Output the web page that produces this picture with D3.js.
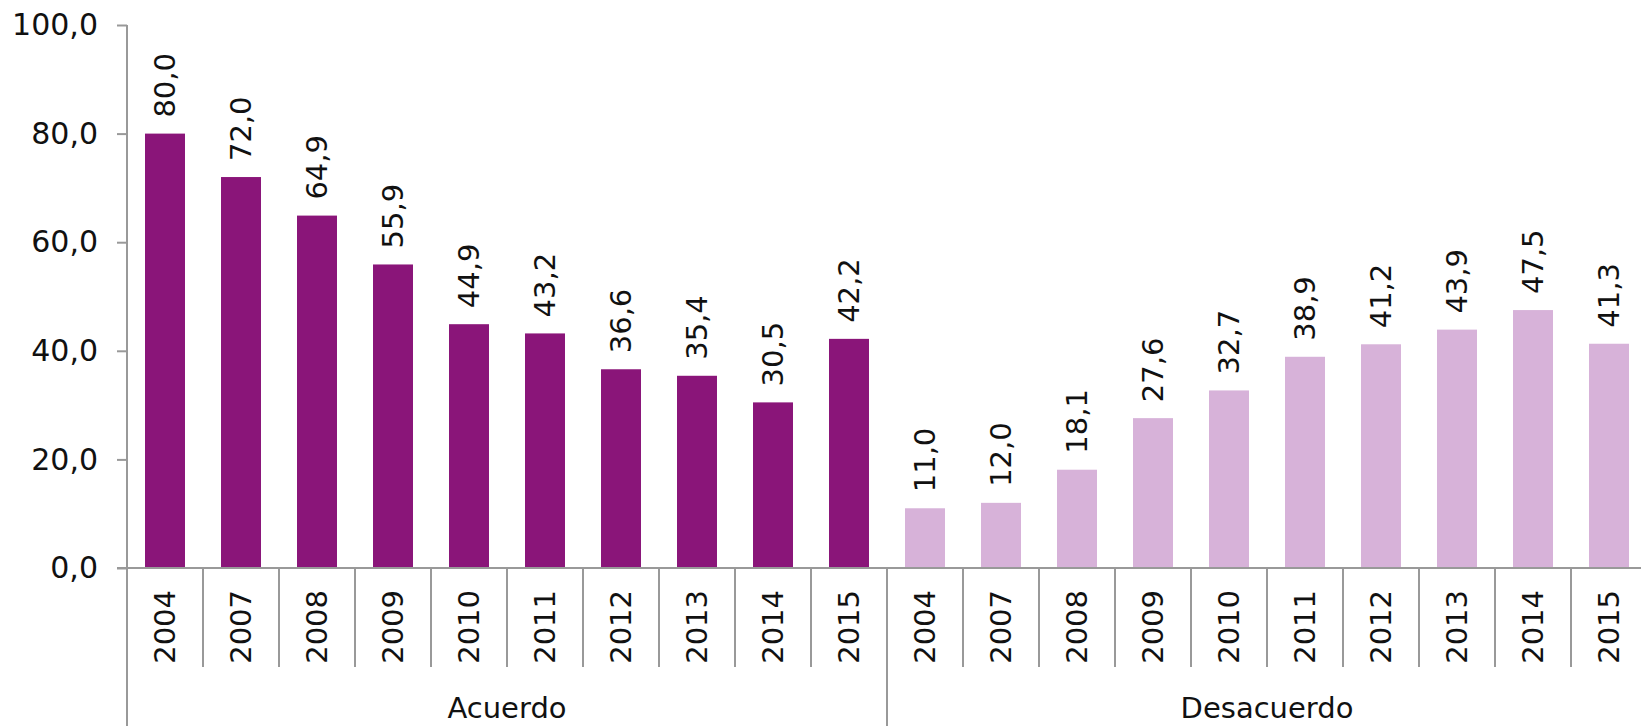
<!DOCTYPE html>
<html>
<head>
<meta charset="UTF-8">
<title>Acuerdo / Desacuerdo</title>
<script src="https://cdn.jsdelivr.net/npm/d3@7/dist/d3.min.js"></script>
<style>
    body { margin: 0; background: #fff; }
    text { font-family: "DejaVu Sans", sans-serif; font-size: 29px; fill: #111; }
    .axis path, .axis line { stroke: #999; stroke-width: 2; }
</style>
</head>
<body>
<svg id="svg"></svg>
<script>
var WIDTH = 1641;
var HEIGHT = 726;

// data
var groups = ["Acuerdo", "Desacuerdo"];
var years = ["2004", "2007", "2008", "2009", "2010", "2011", "2012", "2013", "2014", "2015"];
var acuerdo = [80.0, 72.0, 64.9, 55.9, 44.9, 43.2, 36.6, 35.4, 30.5, 42.2];
var desacuerdo = [11.0, 12.0, 18.1, 27.6, 32.7, 38.9, 41.2, 43.9, 47.5, 41.3];
var yTicks = [0, 20, 40, 60, 80, 100];
var colors = ["#8a1579", "#d7b2d9"];

var rows = [];
[acuerdo, desacuerdo].forEach(function(series, g){
    series.forEach(function(v, i){
        rows.push({group: g, year: years[i], value: v, key: g + "-" + i});
    });
});

var LEFT = 127, STEP = 76;
var ZERO = 568, TOP = 25;

var svg = d3.select("#svg")
    .attr("width", WIDTH)
    .attr("height", HEIGHT);

var xScale = d3.scaleBand()
    .domain(rows.map(function(d){ return d.key; }))
    .range([LEFT, LEFT + STEP * rows.length])
    .paddingInner(0.474)
    .paddingOuter(0.237);

var yScale = d3.scaleLinear()
    .domain([0, 100])
    .range([ZERO, TOP]);

var fmt = function(v){ return d3.format(".1f")(v).replace(".", ","); };

// bars
svg.selectAll("rect.bar")
    .data(rows)
    .enter()
    .append("rect")
    .attr("class", "bar")
    .attr("x", function(d){ return xScale(d.key); })
    .attr("y", function(d){ return yScale(d.value); })
    .attr("width", xScale.bandwidth())
    .attr("height", function(d){ return yScale(0) - yScale(d.value); })
    .attr("fill", function(d){ return colors[d.group]; });

// y axis
var yAxis = d3.axisLeft(yScale)
    .tickValues(yTicks)
    .tickSize(10)
    .tickPadding(19)
    .tickFormat(fmt);

var yg = svg.append("g")
    .attr("class", "axis")
    .attr("transform", "translate(" + LEFT + ",0)")
    .call(yAxis);
yg.select(".domain").remove();
yg.selectAll("text").style("font-size", "30px");

// x axis: baseline, category dividers, group dividers
var ax = svg.append("g").attr("class", "axis");
ax.append("line")
    .attr("x1", LEFT - 10).attr("x2", WIDTH)
    .attr("y1", ZERO).attr("y2", ZERO);
ax.append("line")
    .attr("x1", LEFT).attr("x2", LEFT)
    .attr("y1", TOP).attr("y2", HEIGHT);
ax.selectAll("line.cat")
    .data(rows)
    .enter()
    .append("line")
    .attr("class", "cat")
    .attr("x1", function(d){ return xScale(d.key) - xScale.step() * xScale.paddingInner() / 2; })
    .attr("x2", function(d){ return xScale(d.key) - xScale.step() * xScale.paddingInner() / 2; })
    .attr("y1", ZERO)
    .attr("y2", function(d, i){ return (i % years.length === 0) ? HEIGHT : 667; });

// year labels
svg.selectAll("text.year")
    .data(rows)
    .enter()
    .append("text")
    .attr("class", "year")
    .attr("transform", function(d){
        return "translate(" + (xScale(d.key) + xScale.bandwidth() / 2) + ",590) rotate(-90)";
    })
    .attr("dy", "0.36em")
    .attr("text-anchor", "end")
    .text(function(d){ return d.year; });

// value labels
svg.selectAll("text.val")
    .data(rows)
    .enter()
    .append("text")
    .attr("class", "val")
    .attr("transform", function(d){
        return "translate(" + (xScale(d.key) + xScale.bandwidth() / 2) + "," + (yScale(d.value) - 16) + ") rotate(-90)";
    })
    .attr("dy", "0.36em")
    .attr("text-anchor", "start")
    .text(function(d){ return fmt(d.value); });

// group labels
svg.selectAll("text.grp")
    .data(groups)
    .enter()
    .append("text")
    .attr("class", "grp")
    .attr("x", function(d, g){ return LEFT + STEP * years.length * (g + 0.5); })
    .attr("y", 718)
    .attr("text-anchor", "middle")
    .text(function(d){ return d; });
</script>
</body>
</html>
